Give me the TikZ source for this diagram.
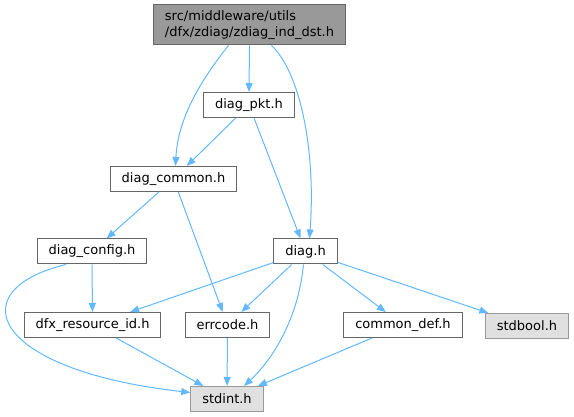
\documentclass[tikz,border=0pt]{standalone}
\usepackage{fontspec}
\setmainfont{DejaVu Sans}
\usetikzlibrary{arrows.meta}
\definecolor{edgeblue}{HTML}{63B8FF}
\definecolor{boxline}{HTML}{666666}
\definecolor{topfill}{HTML}{999999}
\definecolor{leafline}{HTML}{999999}
\definecolor{leaffill}{HTML}{E0E0E0}

\begin{document}
\begin{tikzpicture}[x=1pt, y=-1pt,
  file/.style={rectangle, draw=boxline, fill=white, line width=1pt,
    minimum height=25pt, inner xsep=11.5pt, inner ysep=2pt,
    font=\fontsize{13}{15.5}\selectfont},
  main/.style={file, fill=topfill, minimum height=40pt, align=left},
  leaf/.style={file, draw=leafline, fill=leaffill},
  dep/.style={draw=edgeblue, line width=1pt, -{Triangle[length=9pt,width=7pt]}}]
\useasboundingbox (0,0) rectangle (574,417);
% Define the nodes
\node[main] at (249.5,25) (top) {src/middleware/utils\\/dfx/zdiag/zdiag\_ind\_dst.h};
\node[file] at (249,105) (pkt) {diag\_pkt.h};
\node[file] at (173.5,179) (common) {diag\_common.h};
\node[file] at (92,251.5) (config) {diag\_config.h};
\node[file] at (305.5,251.5) (diag) {diag.h};
\node[file] at (92.5,325) (resid) {dfx\_resource\_id.h};
\node[file] at (227.5,325) (errcode) {errcode.h};
\node[file] at (403,325) (commondef) {common\_def.h};
\node[leaf] at (527,326) (stdbool) {stdbool.h};
\node[leaf] at (227,399) (stdint) {stdint.h};
% Draw the paths
\draw[dep] (top.south) -- (pkt.north);
\draw[dep] ([xshift=-21pt]top.south) .. controls (205,75) and (178,115) .. ([xshift=2pt]common.north);
\draw[dep] ([xshift=22pt]top.south) .. controls (300,72) and (316,150) .. ([xshift=4pt]diag.north);
\draw[dep] (pkt) -- (common);
\draw[dep] (pkt) -- (diag);
\draw[dep] (common) -- (config);
\draw[dep] (common) -- (errcode);
\draw[dep] (config) -- (resid);
\draw[dep] ([xshift=-26pt]config.south) .. controls (-40,290) and (-10,370) .. (stdint.170);
\draw[dep] (resid) -- (stdint);
\draw[dep] (diag) -- (resid);
\draw[dep] (diag) -- (errcode);
\draw[dep] ([xshift=-2pt]diag.south) .. controls (298,320) and (272,360) .. ([xshift=17pt]stdint.north);
\draw[dep] (diag) -- (commondef);
\draw[dep] (diag) -- (stdbool);
\draw[dep] (errcode) -- (stdint);
\draw[dep] (commondef) -- (stdint);
\end{tikzpicture}
\end{document}
